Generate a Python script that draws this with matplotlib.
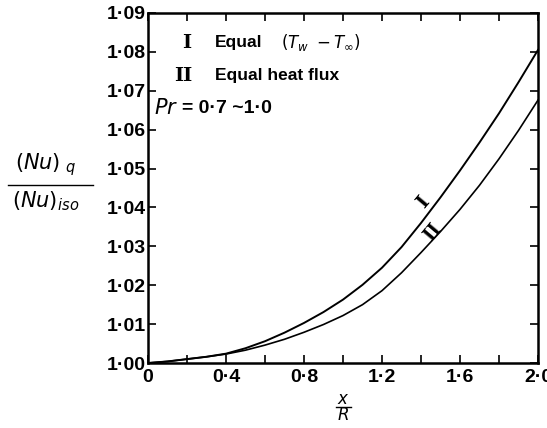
import matplotlib
matplotlib.use('Agg')
import matplotlib.pyplot as plt
from matplotlib.lines import Line2D

# x/R values and Nusselt number ratios
x_over_r = [0.0, 0.1, 0.2, 0.3, 0.4, 0.5, 0.6, 0.7, 0.8, 0.9, 1.0,
            1.1, 1.2, 1.3, 1.4, 1.5, 1.6, 1.7, 1.8, 1.9, 2.0]
curve_i = [1.0000, 1.0004, 1.0010, 1.0016, 1.0024, 1.0038, 1.0056, 1.0078,
           1.0103, 1.0131, 1.0163, 1.0201, 1.0245, 1.0298, 1.0360, 1.0426,
           1.0495, 1.0567, 1.0642, 1.0722, 1.0805]
curve_ii = [1.0000, 1.0004, 1.0010, 1.0016, 1.0023, 1.0033, 1.0046, 1.0061,
            1.0079, 1.0099, 1.0122, 1.0150, 1.0186, 1.0232, 1.0284, 1.0338,
            1.0395, 1.0457, 1.0525, 1.0598, 1.0676]

xticks = [0.0, 0.4, 0.8, 1.2, 1.6, 2.0]
xtick_labels = ['0', '0·4', '0·8', '1·2', '1·6', '2·0']
yticks = [1.00, 1.01, 1.02, 1.03, 1.04, 1.05, 1.06, 1.07, 1.08, 1.09]
ytick_labels = ['1·00', '1·01', '1·02', '1·03', '1·04', '1·05',
                '1·06', '1·07', '1·08', '1·09']

plt.rcParams['font.family'] = ['Liberation Sans', 'DejaVu Sans']
plt.rcParams['mathtext.fontset'] = 'dejavusans'

fig = plt.figure(figsize=(5.47, 4.28), dpi=100, facecolor='white')
ax = fig.add_axes([148/547, 1-363/428, 390/547, 350/428])

ax.plot(x_over_r, curve_i, color='black', linewidth=1.4)
ax.plot(x_over_r, curve_ii, color='black', linewidth=1.2)

ax.set_xlim(0, 2.0)
ax.set_ylim(1.0, 1.09)

ax.set_xticks(xticks)
ax.set_xticklabels(xtick_labels)
ax.set_xticks([0.2, 0.6, 1.0, 1.4, 1.8], minor=True)
ax.set_yticks(yticks)
ax.set_yticklabels(ytick_labels)

ax.tick_params(which='both', direction='in', top=True, right=True,
               length=6, width=1.2, labelsize=14)
ax.tick_params(axis='x', pad=4)
ax.tick_params(axis='y', pad=1.5)
for lab in ax.get_xticklabels() + ax.get_yticklabels():
    lab.set_fontweight('bold')
for sp in ax.spines.values():
    sp.set_linewidth(1.8)

# legend-like annotations inside the axes
ax.text(0.197, 1.0823, 'I', fontsize=14, family='DejaVu Serif',
        fontweight='bold', ha='center', va='center')
ax.text(0.345, 1.0823, 'Equal', fontsize=12.5, fontweight='bold', va='center')
ax.text(0.68, 1.0823, r'$(\mathit{T}_w\ -\mathit{T}_\infty)$', fontsize=12,
        va='center')
ax.text(0.18, 1.0738, 'II', fontsize=14, family='DejaVu Serif',
        fontweight='bold', ha='center', va='center')
ax.text(0.345, 1.0738, 'Equal heat flux', fontsize=12.5, fontweight='bold',
        va='center')
ax.text(0.03, 1.0655, r'$\mathit{Pr}$', fontsize=15, va='center')
ax.text(0.175, 1.0655, '= 0·7 ~1·0', fontsize=14, fontweight='bold',
        va='center')

# curve labels
ax.text(1.41, 1.0412, 'I', fontsize=14, family='DejaVu Serif',
        fontweight='bold', rotation=50, ha='center', va='center')
ax.text(1.46, 1.0337, 'II', fontsize=13, family='DejaVu Serif',
        fontweight='bold', rotation=50, ha='center', va='center')

# y-axis label as a fraction
fig.text(45/547, 1-165/428, r'$\mathit{(Nu)}_{\ q}$', fontsize=15,
         ha='center', va='center')
fig.add_artist(Line2D([8/547, 93/547], [1-185/428, 1-185/428],
                      color='black', linewidth=1.0, transform=fig.transFigure))
fig.text(46/547, 1-201/428, r'$\mathit{(Nu)}_{iso}$', fontsize=15,
         ha='center', va='center')

# x-axis label as a fraction
fig.text(343/547, 1-399/428, r'$\mathit{x}$', fontsize=12,
         ha='center', va='center')
fig.add_artist(Line2D([336/547, 351/547], [1-407/428, 1-407/428],
                      color='black', linewidth=1.0, transform=fig.transFigure))
fig.text(343/547, 1-414/428, r'$\mathit{R}$', fontsize=12,
         ha='center', va='center')

fig.savefig('out.png', dpi=100, facecolor='white')
